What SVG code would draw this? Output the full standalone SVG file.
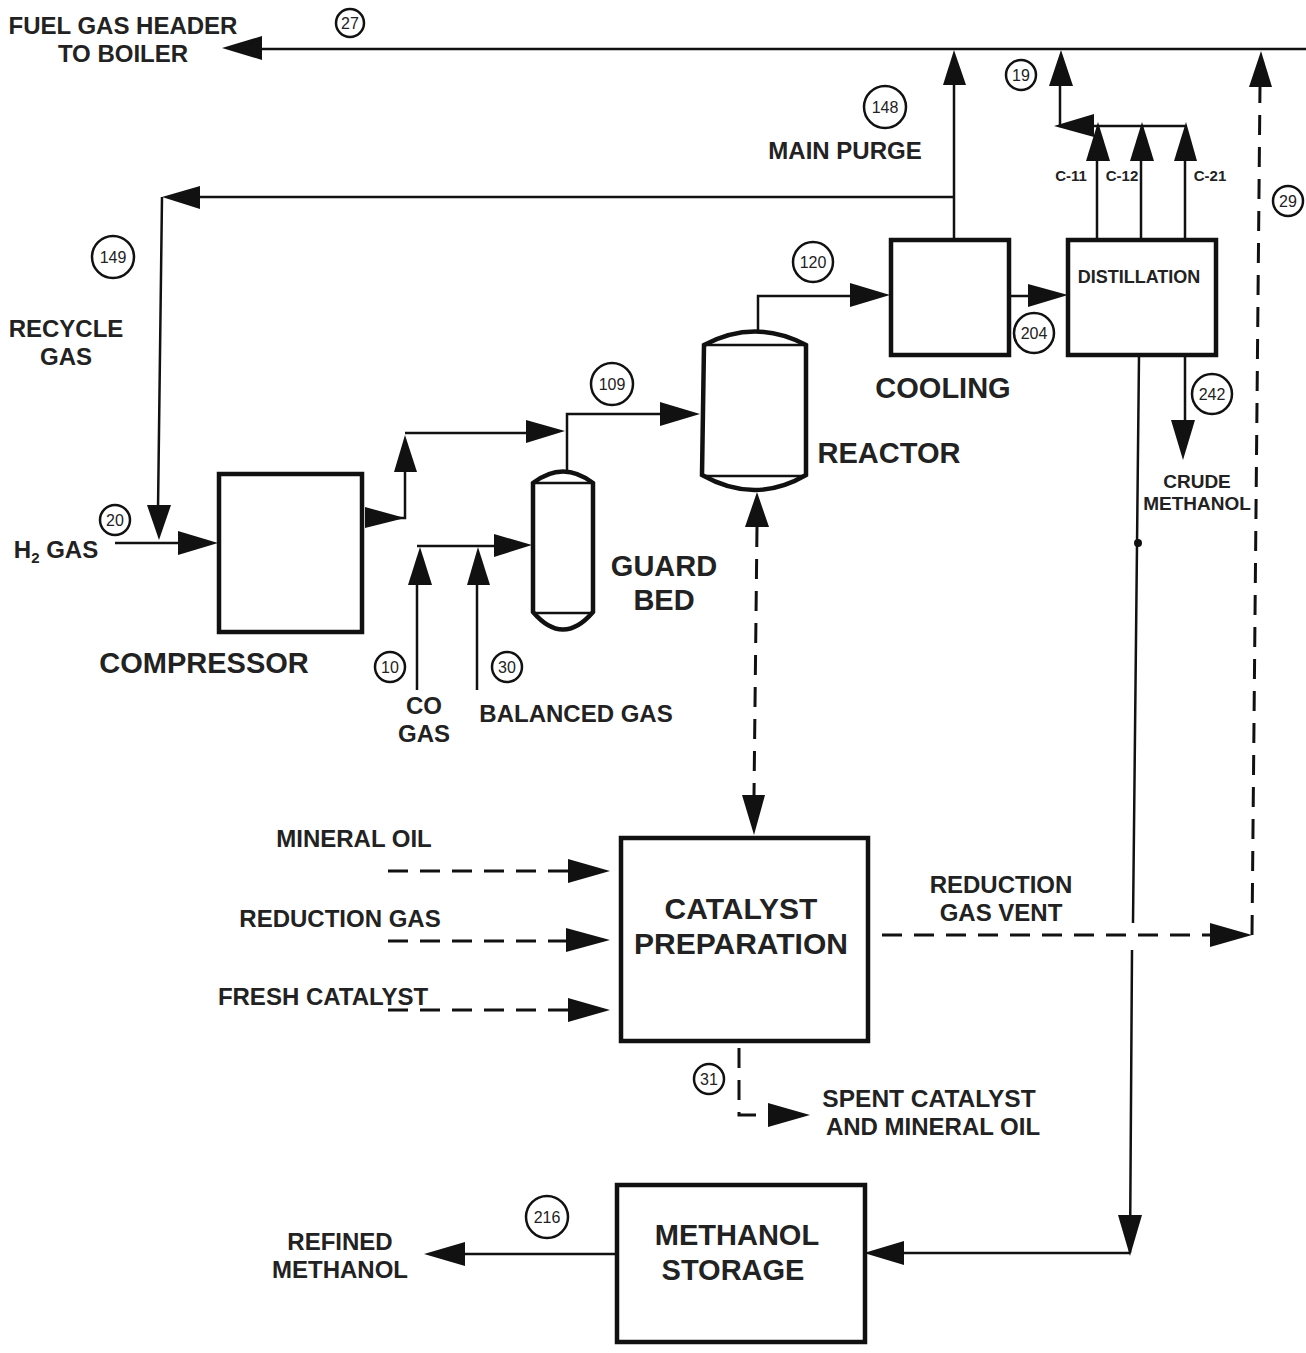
<svg xmlns="http://www.w3.org/2000/svg" width="1306" height="1353" viewBox="0 0 1306 1353">
<style>
text{font-family:"Liberation Sans",Arial,sans-serif;font-weight:bold;fill:#222;text-anchor:middle}
.l{font-size:24px}.xl{font-size:29px}.xc{font-size:30px}.sp{font-size:24.5px}.s{font-size:15px}.n{font-size:16px;font-weight:normal}.cm{font-size:19px}.di{font-size:18px}
.b{fill:#fff;stroke:#111;stroke-width:4.5}
.c{fill:none;stroke:#111;stroke-width:2.5}
.d{fill:none;stroke:#111;stroke-width:3;stroke-dasharray:20 12}
.v{fill:#fff;stroke:#111;stroke-width:4.5}
.o{fill:#fff;stroke:#111;stroke-width:2.5}
.a{fill:#111}
</style>
<rect width="1306" height="1353" fill="#fff"/>
<g id="connectors">
<path class="c" d="M250 49H1306M954 238V80M954 197H170M162 197L158 510M115 543H190M365 518H405V460M405 433H530M567 470V414H670M417 690V580M417 546H500M477 690V580M758 330V296H860M1010 296H1035M1097 238V150M1141 238V150M1185 238V150M1185 126H1060M1060 126V80M1185 356V425M1139 356L1133 923M1132 950L1130 1253M1130 1253H900M615 1254H462"/>
<path class="d" d="M757 527L754 795M388 871H570M388 941H570M388 1010H570M882 935H1215M1252 935L1260 86M739 1048V1115H770"/>
<circle cx="1138" cy="543" r="4" fill="#111"/>
<polygon class="a" points="222,48 262,36 262,60"/><polygon class="a" points="954,50 943,85 966,85"/><polygon class="a" points="1061,50 1049,86 1073,86"/><polygon class="a" points="1261,51 1249,87 1272,87"/>
<polygon class="a" points="162,197 200,186 200,209"/><polygon class="a" points="159,540 147,505 171,505"/><polygon class="a" points="218,543 178,531 178,555"/>
<polygon class="a" points="405,435 394,472 417,472"/><polygon class="a" points="565,431 526,420 526,443"/><polygon class="a" points="532,545 494,534 494,557"/><polygon class="a" points="420,547 408,585 432,585"/><polygon class="a" points="478,547 467,585 490,585"/>
<polygon class="a" points="700,414 660,402 660,426"/><polygon class="a" points="890,295 850,283 850,307"/><polygon class="a" points="1068,295 1028,284 1028,307"/>
<polygon class="a" points="1098,122 1086,161 1110,161"/><polygon class="a" points="1142,122 1130,161 1154,161"/><polygon class="a" points="1186,122 1174,161 1197,161"/><polygon class="a" points="1054,126 1094,114 1094,137"/>
<polygon class="a" points="1183,460 1171,420 1195,420"/><polygon class="a" points="757,492 745,527 769,527"/><polygon class="a" points="754,835 742,795 765,795"/>
<polygon class="a" points="610,871 568,859 568,883"/><polygon class="a" points="610,940 566,928 566,952"/><polygon class="a" points="610,1010 568,998 568,1022"/><polygon class="a" points="1252,935 1210,923 1210,947"/><polygon class="a" points="810,1115 768,1103 768,1127"/>
<polygon class="a" points="1130,1256 1118,1215 1142,1215"/><polygon class="a" points="864,1253 904,1241 904,1265"/><polygon class="a" points="424,1254 465,1242 465,1266"/>
<polygon class="a" points="365,507 405,518 365,528"/>
</g>
<g id="compressor"><rect class="b" x="219" y="474" width="143" height="158"/><text class="xl" x="204" y="673">COMPRESSOR</text></g>
<g id="guard-bed"><path class="v" d="M533 483Q563 460 593 483V612Q563 647 533 612Z"/><path class="c" d="M534 483H592M534 613H592"/><text class="xl" x="664" y="576">GUARD</text><text class="xl" x="664" y="610">BED</text></g>
<g id="reactor"><path class="v" d="M704 345Q755 318 806 345V475Q755 505 702 475Z"/><path class="c" d="M704 345H805M704 476H805"/><text class="xl" x="889" y="463">REACTOR</text></g>
<g id="cooling"><rect class="b" x="891" y="240" width="118" height="115"/><text class="xl" x="943" y="398">COOLING</text></g>
<g id="distillation"><rect class="b" x="1068" y="240" width="148" height="115"/><text class="di" x="1139" y="283">DISTILLATION</text></g>
<g id="catalyst-preparation"><rect class="b" x="621" y="838" width="247" height="203"/><text class="xc" x="741" y="919">CATALYST</text><text class="xc" x="741" y="954">PREPARATION</text></g>
<g id="methanol-storage"><rect class="b" x="617" y="1185" width="248" height="157"/><text class="xl" x="737" y="1245">METHANOL</text><text class="xl" x="733" y="1280">STORAGE</text></g>
<g id="labels">
<text class="l" x="123" y="34">FUEL GAS HEADER</text><text class="l" x="123" y="62">TO BOILER</text>
<text class="l" x="845" y="159">MAIN PURGE</text>
<text class="l" x="66" y="337">RECYCLE</text><text class="l" x="66" y="365">GAS</text>
<text class="l" x="56" y="558">H<tspan font-size="15" dy="5">2</tspan><tspan dy="-5"> GAS</tspan></text>
<text class="l" x="424" y="714">CO</text><text class="l" x="424" y="742">GAS</text>
<text class="l" x="576" y="722">BALANCED GAS</text>
<text class="s" x="1071" y="181">C-11</text><text class="s" x="1122" y="181">C-12</text><text class="s" x="1210" y="181">C-21</text>
<text class="cm" x="1197" y="488">CRUDE</text><text class="cm" x="1197" y="510">METHANOL</text>
<text class="l" x="354" y="847">MINERAL OIL</text><text class="l" x="340" y="927">REDUCTION GAS</text><text class="l" x="323" y="1005">FRESH CATALYST</text>
<text class="l" x="1001" y="893">REDUCTION</text><text class="l" x="1001" y="921">GAS VENT</text>
<text class="sp" x="929" y="1107">SPENT CATALYST</text><text class="l" x="933" y="1135">AND MINERAL OIL</text>
<text class="l" x="340" y="1250">REFINED</text><text class="l" x="340" y="1278">METHANOL</text>
</g>
<g id="stream-numbers">
<circle class="o" cx="350" cy="23" r="14"/><text class="n" x="350" y="29">27</text>
<circle class="o" cx="885" cy="107" r="21"/><text class="n" x="885" y="113">148</text>
<circle class="o" cx="1021" cy="75" r="15"/><text class="n" x="1021" y="81">19</text>
<circle class="o" cx="113" cy="257" r="21"/><text class="n" x="113" y="263">149</text>
<circle class="o" cx="1288" cy="201" r="15"/><text class="n" x="1288" y="207">29</text>
<circle class="o" cx="813" cy="262" r="20"/><text class="n" x="813" y="268">120</text>
<circle class="o" cx="1034" cy="333" r="20"/><text class="n" x="1034" y="339">204</text>
<circle class="o" cx="612" cy="384" r="21"/><text class="n" x="612" y="390">109</text>
<circle class="o" cx="1212" cy="394" r="20"/><text class="n" x="1212" y="400">242</text>
<circle class="o" cx="115" cy="520" r="15"/><text class="n" x="115" y="526">20</text>
<circle class="o" cx="390" cy="667" r="15"/><text class="n" x="390" y="673">10</text>
<circle class="o" cx="507" cy="667" r="15"/><text class="n" x="507" y="673">30</text>
<circle class="o" cx="709" cy="1079" r="15"/><text class="n" x="709" y="1085">31</text>
<circle class="o" cx="547" cy="1217" r="21"/><text class="n" x="547" y="1223">216</text>
</g>
</svg>
